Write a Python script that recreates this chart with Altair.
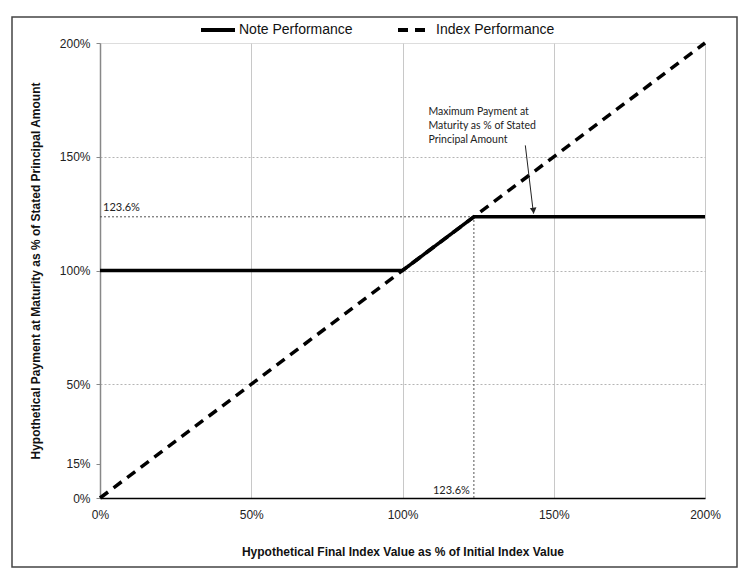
import altair as alt
import pandas as pd

# ---- data ----
note_x = [0, 100, 123.6, 200]
note_y = [100, 100, 123.6, 123.6]
index_x = [0, 200]
index_y = [0, 200]
cap = 123.6
x_ticks = [0, 50, 100, 150, 200]
y_ticks = [0, 15, 50, 100, 150, 200]
series_names = ["Note Performance", "Index Performance"]
annot_lines = ["Maximum Payment at", "Maturity as % of Stated", "Principal Amount"]
annot_pos = [108.6, 169.5]          # x, y (data units) of first text line
arrow_from = [140.6, 155]
arrow_to = [143.3, 125]

rows = []
for x, y in zip(note_x, note_y):
    rows.append({"series": series_names[0], "x": x, "y": y})
for x, y in zip(index_x, index_y):
    rows.append({"series": series_names[1], "x": x, "y": y})
lines_df = pd.DataFrame(rows)

W, H = 605, 455
xs = alt.Scale(domain=[0, 200], nice=False)
ys = alt.Scale(domain=[0, 200], nice=False)

TICK_FONT = "Liberation Sans Narrow, Arial Narrow, Liberation Sans"

x_axis = alt.Axis(values=x_ticks, labelExpr="datum.value + '%'", title="Hypothetical Final Index Value as % of Initial Index Value",
                  grid=True, gridColor="#c8c8c8", gridWidth=1, domainColor="#000000", domainWidth=1.5,
                  ticks=False, labelFlush=False, labelPadding=11, labelFontSize=12, labelFont=TICK_FONT, labelColor="#222",
                  titleFont="Liberation Sans", titleFontSize=12, titleFontWeight="bold", titlePadding=26, titleColor="#111")
y_axis = alt.Axis(values=y_ticks, labelExpr="datum.value + '%'", title="Hypothetical Payment at Maturity as % of Stated Principal Amount",
                  grid=True, gridColor="#b4b4b4", gridDash=[2, 2], gridWidth=1,
                  gridOpacity={"condition": {"test": "datum.value === 15 || datum.value === 0 || datum.value === 200", "value": 0}, "value": 1},
                  domainColor="#888888", domainWidth=1.5, tickColor="#888888", tickSize=4, labelPadding=6,
                  labelFlush=False, labelFontSize=12, labelFont=TICK_FONT, labelColor="#222",
                  titleFont="Liberation Sans", titleFontSize=12, titleFontWeight="bold", titlePadding=17, titleColor="#111")

base_one = alt.Chart(pd.DataFrame({"a": [0]}))

frame = base_one.mark_rect(fill=None, stroke="#444444", strokeWidth=1.5).encode(
    x=alt.value(-88), x2=alt.value(637), y=alt.value(-26), y2=alt.value(524)
)

ref_df = pd.DataFrame({"x0": [0, cap], "x1": [cap, cap], "y0": [cap, 0], "y1": [cap, cap]})
refs = alt.Chart(ref_df).mark_rule(color="#555555", strokeWidth=1, strokeDash=[2, 2]).encode(
    x=alt.X("x0:Q", scale=xs, axis=x_axis), x2="x1:Q",
    y=alt.Y("y0:Q", scale=ys, axis=y_axis), y2="y1:Q",
)

lines = alt.Chart(lines_df).mark_line(color="black", strokeWidth=3.5).encode(
    x=alt.X("x:Q", scale=xs),
    y=alt.Y("y:Q", scale=ys),
    strokeDash=alt.StrokeDash("series:N",
        scale=alt.Scale(domain=series_names, range=[[1, 0], [10, 7]]),
        legend=alt.Legend(title=None, orient="none", direction="horizontal", legendX=99, legendY=-32,
                          symbolType="stroke", symbolSize=1156, symbolStrokeWidth=4, symbolStrokeColor="black",
                          labelFont="Liberation Sans", labelFontSize=14, labelColor="#111", labelOffset=2,
                          columnPadding=37)),
    detail="series:N",
)

cap_df = pd.DataFrame({"x": [0, cap], "y": [cap, 0], "t": [f"{cap}%", f"{cap}%"]})
cap_left = alt.Chart(cap_df.iloc[[0]]).mark_text(align="left", baseline="bottom", dx=3, dy=-4, fontSize=11,
                                                 font="Lato", color="#222").encode(
    x=alt.X("x:Q", scale=xs), y=alt.Y("y:Q", scale=ys), text="t:N")
cap_bottom = alt.Chart(cap_df.iloc[[1]]).mark_text(align="right", baseline="bottom", dx=-4, dy=-2, fontSize=11,
                                                   font="Lato", color="#222").encode(
    x=alt.X("x:Q", scale=xs), y=alt.Y("y:Q", scale=ys), text="t:N")

annot_df = pd.DataFrame({"x": [annot_pos[0]], "y": [annot_pos[1]], "t": [annot_lines]})
annot = alt.Chart(annot_df).mark_text(align="left", baseline="middle", fontSize=10.5, font="Lato",
                                      lineHeight=14, color="#222").encode(
    x=alt.X("x:Q", scale=xs), y=alt.Y("y:Q", scale=ys), text="t")

arrow_df = pd.DataFrame({"x": [arrow_from[0]], "y": [arrow_from[1]], "x2": [arrow_to[0]], "y2": [arrow_to[1]]})
arrow_line = alt.Chart(arrow_df).mark_rule(color="#222", strokeWidth=1).encode(
    x=alt.X("x:Q", scale=xs), y=alt.Y("y:Q", scale=ys), x2="x2:Q", y2="y2:Q")
head_df = pd.DataFrame({"x": [arrow_to[0]], "y": [arrow_to[1]]})
arrow_head = alt.Chart(head_df).mark_point(shape="triangle-down", filled=True, color="#222", size=45,
                                           angle=353, opacity=1, yOffset=-3).encode(
    x=alt.X("x:Q", scale=xs), y=alt.Y("y:Q", scale=ys))

chart = alt.layer(frame, refs, lines, cap_left, cap_bottom, annot, arrow_line, arrow_head).properties(
    width=W, height=H,
    autosize=alt.AutoSizeParams(type="none"),
    padding={"left": 92, "top": 35, "right": 34, "bottom": 72},
).configure_view(stroke="#888888", strokeWidth=1.5).configure(background="white")

chart.save("out.html", embed_options={"renderer": "svg", "actions": False})
